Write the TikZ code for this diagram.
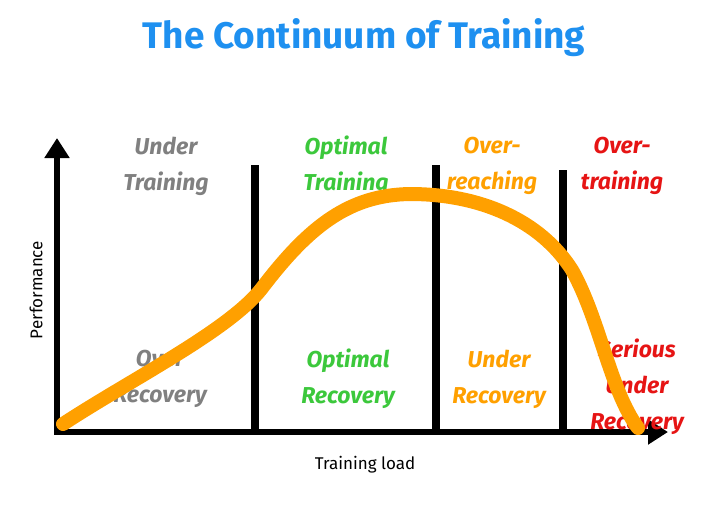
\documentclass[tikz,border=0pt]{standalone}
\usepackage{fontspec}
\setmainfont{Fira Sans}
\usetikzlibrary{arrows.meta}
\definecolor{tblue}{HTML}{1E90F0}
\definecolor{tgray}{HTML}{808080}
\definecolor{tgreen}{HTML}{3CC83C}
\definecolor{torange}{HTML}{FFA000}
\definecolor{tred}{HTML}{E61414}
\tikzset{
 lab/.style={font=\fontsize{23}{36}\selectfont\bfseries\itshape, align=center},
 divider/.style={line width=8pt},
 axis/.style={line width=6pt,-{Triangle[width=24pt,length=20pt]}},
}
\begin{document}
\begin{tikzpicture}[x=1pt,y=-1pt]
\useasboundingbox (0,0) rectangle (728,504);
\node (title) at (364,38) {\fontsize{37}{44}\selectfont\bfseries\color{tblue}The Continuum of Training};
\coordinate (o) at (57,432);
\coordinate (ytip) at (57,138);
\coordinate (xtip) at (668,432);
\draw[axis] (o) -- (ytip);
\draw[axis] (54,432) -- (xtip);
\coordinate (d1t) at (255,165); \coordinate (d1b) at (255,432);
\coordinate (d2t) at (436,165); \coordinate (d2b) at (436,432);
\coordinate (d3t) at (563,170); \coordinate (d3b) at (563,432);
\draw[divider] (d1t) -- (d1b);
\draw[divider] (d2t) -- (d2b);
\draw[divider] (d3t) -- (d3b);
\node[lab,text=tgray] (ut) at (166,166) {Under\\Training};
\node[lab,text=tgreen] (ot) at (346,166) {Optimal\\Training};
\node[lab,text=torange] (orc) at (492,166) {Over-\\reaching};
\node[lab,text=tred] (otr) at (622,166) {Over-\\training};
\node[lab,text=tgray] (or) at (160,379) {Over\\Recovery};
\node[lab,text=tgreen] (opr) at (348,379) {Optimal\\Recovery};
\node[lab,text=torange] (ur) at (499,379) {Under\\Recovery};
\node[lab,text=tred] (sur) at (637,387) {Serious\\Under\\Recovery};
\node[rotate=90,font=\fontsize{17}{20}\selectfont] (perf) at (36,290) {Performance};
\node[font=\fontsize{17}{20}\selectfont] (tl) at (365,465) {Training load};
\draw[torange,line width=14pt,line cap=round]
 (63,424) .. controls (130,380) and (230,330) .. (262,288)
 .. controls (310,225) and (350,195) .. (410,194)
 .. controls (480,194) and (540,220) .. (572,270)
 .. controls (600,320) and (610,390) .. (638,428);
\end{tikzpicture}
\end{document}
